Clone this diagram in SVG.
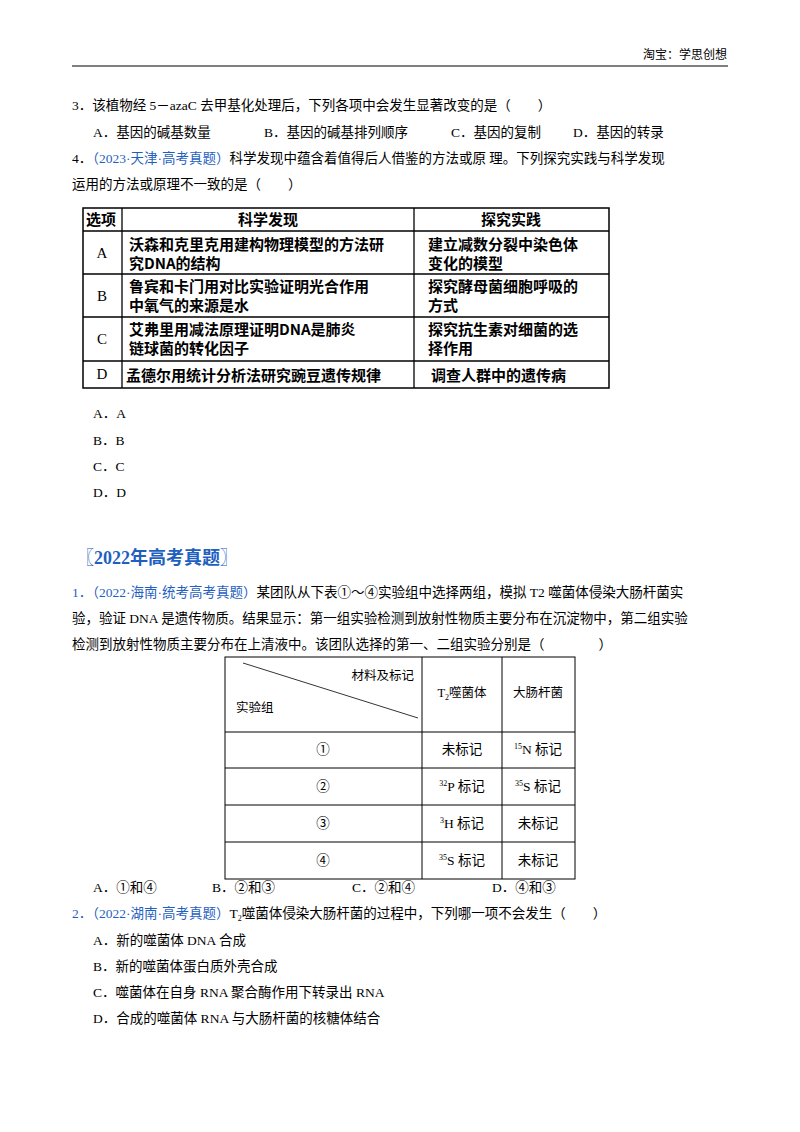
<svg xmlns="http://www.w3.org/2000/svg" width="800" height="1132" viewBox="0 0 800 1132">
<style>
text{font-family:"Liberation Serif","Noto Sans CJK SC",serif;font-size:13.5px;fill:#000}
.b{font-weight:bold;font-family:"Noto Sans CJK SC",sans-serif;font-size:15px}
.blue{fill:#1f5fbf}
.ln{stroke:#000;fill:none}
.sm{font-size:8px}
.t2{font-size:12.5px}
</style>
<rect width="800" height="1132" fill="#fff"/>
<text x="727" y="59" text-anchor="end" style="font-size:12px">淘宝：学思创想</text>
<line x1="72" y1="66" x2="728" y2="66" class="ln" stroke-width="1.2"/>
<text x="72" y="110">3．该植物经 5－azaC 去甲基化处理后，下列各项中会发生显著改变的是（　　）</text>
<text x="93" y="137">A．基因的碱基数量</text>
<text x="264" y="137">B．基因的碱基排列顺序</text>
<text x="451" y="137">C．基因的复制</text>
<text x="573" y="137">D．基因的转录</text>
<text x="72" y="163">4．<tspan class="blue">（2023·天津·高考真题）</tspan>科学发现中蕴含着值得后人借鉴的方法或原 理。下列探究实践与科学发现</text>
<text x="72" y="189">运用的方法或原理不一致的是（　　）</text>
<g id="table1">
<rect x="83" y="208" width="526" height="180" class="ln" stroke-width="1.5"/>
<g class="ln" stroke-width="1.3">
<line x1="122" y1="208" x2="122" y2="388"/><line x1="414" y1="208" x2="414" y2="388"/>
<line x1="83" y1="231" x2="609" y2="231"/><line x1="83" y1="274" x2="609" y2="274"/>
<line x1="83" y1="317" x2="609" y2="317"/><line x1="83" y1="361" x2="609" y2="361"/>
</g>
<text class="b" x="86" y="225">选项</text>
<text class="b" x="268" y="225" text-anchor="middle">科学发现</text>
<text class="b" x="511" y="225" text-anchor="middle">探究实践</text>
<text x="102" y="258" text-anchor="middle" style="font-size:15px">A</text>
<text class="b" x="129" y="250">沃森和克里克用建构物理模型的方法研</text>
<text class="b" x="129" y="269">究DNA的结构</text>
<text class="b" x="428" y="250">建立减数分裂中染色体</text>
<text class="b" x="428" y="269">变化的模型</text>
<text x="102" y="301" text-anchor="middle" style="font-size:15px">B</text>
<text class="b" x="129" y="292">鲁宾和卡门用对比实验证明光合作用</text>
<text class="b" x="129" y="311">中氧气的来源是水</text>
<text class="b" x="428" y="292">探究酵母菌细胞呼吸的</text>
<text class="b" x="428" y="311">方式</text>
<text x="102" y="344" text-anchor="middle" style="font-size:15px">C</text>
<text class="b" x="129" y="335">艾弗里用减法原理证明DNA是肺炎</text>
<text class="b" x="129" y="354">链球菌的转化因子</text>
<text class="b" x="428" y="335">探究抗生素对细菌的选</text>
<text class="b" x="428" y="354">择作用</text>
<text x="102" y="379" text-anchor="middle" style="font-size:15px">D</text>
<text class="b" x="126" y="381">孟德尔用统计分析法研究豌豆遗传规律</text>
<text class="b" x="431" y="381">调查人群中的遗传病</text>
</g>
<text x="93" y="418">A．A</text>
<text x="93" y="445">B．B</text>
<text x="93" y="471">C．C</text>
<text x="93" y="497">D．D</text>
<text x="76" y="564" class="blue" style="font-weight:bold;font-size:18px">〖2022年高考真题〗</text>
<text x="72" y="597"><tspan class="blue">1．（2022·海南·统考高考真题）</tspan>某团队从下表①～④实验组中选择两组，模拟 T2 噬菌体侵染大肠杆菌实</text>
<text x="72" y="623">验，验证 DNA 是遗传物质。结果显示：第一组实验检测到放射性物质主要分布在沉淀物中，第二组实验</text>
<text x="72" y="649">检测到放射性物质主要分布在上清液中。该团队选择的第一、二组实验分别是（　　　　）</text>
<g id="table2">
<rect x="225" y="657" width="350" height="222" class="ln" stroke-width="1"/>
<g class="ln" stroke-width="1">
<line x1="422" y1="657" x2="422" y2="879"/><line x1="502" y1="657" x2="502" y2="879"/>
<line x1="225" y1="732" x2="575" y2="732"/><line x1="225" y1="768" x2="575" y2="768"/>
<line x1="225" y1="805" x2="575" y2="805"/><line x1="225" y1="842" x2="575" y2="842"/>
<line x1="243" y1="663" x2="418" y2="718" stroke-width="0.8"/>
</g>
<text x="414" y="680" text-anchor="end" class="t2">材料及标记</text>
<text x="236" y="712" class="t2">实验组</text>
<text x="462" y="697" text-anchor="middle" class="t2">T<tspan class="sm" dy="3">2</tspan><tspan dy="-3">噬菌体</tspan></text>
<text x="538" y="697" text-anchor="middle" class="t2">大肠杆菌</text>
<text x="323" y="754" text-anchor="middle">①</text><text x="323" y="791" text-anchor="middle">②</text>
<text x="323" y="828" text-anchor="middle">③</text><text x="323" y="865" text-anchor="middle">④</text>
<text x="462" y="754" text-anchor="middle">未标记</text>
<text x="538" y="754" text-anchor="middle"><tspan class="sm" dy="-5">15</tspan><tspan dy="5">N 标记</tspan></text>
<text x="462" y="791" text-anchor="middle"><tspan class="sm" dy="-5">32</tspan><tspan dy="5">P 标记</tspan></text>
<text x="538" y="791" text-anchor="middle"><tspan class="sm" dy="-5">35</tspan><tspan dy="5">S 标记</tspan></text>
<text x="462" y="828" text-anchor="middle"><tspan class="sm" dy="-5">3</tspan><tspan dy="5">H 标记</tspan></text>
<text x="538" y="828" text-anchor="middle">未标记</text>
<text x="462" y="865" text-anchor="middle"><tspan class="sm" dy="-5">35</tspan><tspan dy="5">S 标记</tspan></text>
<text x="538" y="865" text-anchor="middle">未标记</text>
</g>
<text x="93" y="892">A．①和④</text>
<text x="212" y="892">B．②和③</text>
<text x="352" y="892">C．②和④</text>
<text x="492" y="892">D．④和③</text>
<text x="72" y="918"><tspan class="blue">2．（2022·湖南·高考真题）</tspan>T<tspan class="sm" dy="3">2</tspan><tspan dy="-3">噬菌体侵染大肠杆菌的过程中，下列哪一项不会发生（　　）</tspan></text>
<text x="93" y="945">A．新的噬菌体 DNA 合成</text>
<text x="93" y="971">B．新的噬菌体蛋白质外壳合成</text>
<text x="93" y="997">C．噬菌体在自身 RNA 聚合酶作用下转录出 RNA</text>
<text x="93" y="1023">D．合成的噬菌体 RNA 与大肠杆菌的核糖体结合</text>
</svg>
